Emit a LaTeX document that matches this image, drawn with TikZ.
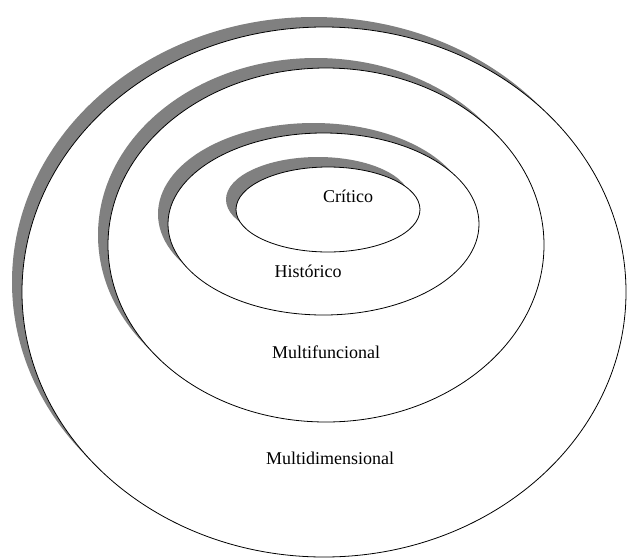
\documentclass[tikz,border=0pt]{standalone}
\usepackage{fontspec}
\setmainfont{Liberation Serif}
\usetikzlibrary{shapes.geometric,shadows}
\begin{document}
\begin{tikzpicture}[x=1pt,y=-1pt,
  ring/.style={ellipse, draw=black, line width=0.8pt, fill=white, inner sep=0pt, outer sep=0pt,
    drop shadow={shadow xshift=-10pt, shadow yshift=10pt, fill=black!50, opacity=1}},
  lbl/.style={font=\fontsize{18}{21}\selectfont, inner sep=0pt}]
\useasboundingbox (0,0) rectangle (627,558);
\node[ring, minimum width=604pt, minimum height=530pt] (multidim) at (324,292) {};
\node[ring, minimum width=436pt, minimum height=354pt] (multifun) at (326,245) {};
\node[ring, minimum width=311pt, minimum height=182pt] (hist) at (323.5,224) {};
\node[ring, minimum width=184pt, minimum height=85pt] (crit) at (328,209.5) {};
\node[lbl] (tcrit) at (348,196) {Crítico};
\node[lbl] (thist) at (308,271) {Histórico};
\node[lbl] (tfun) at (326,352) {Multifuncional};
\node[lbl] (tdim) at (330,458) {Multidimensional};
\end{tikzpicture}
\end{document}
